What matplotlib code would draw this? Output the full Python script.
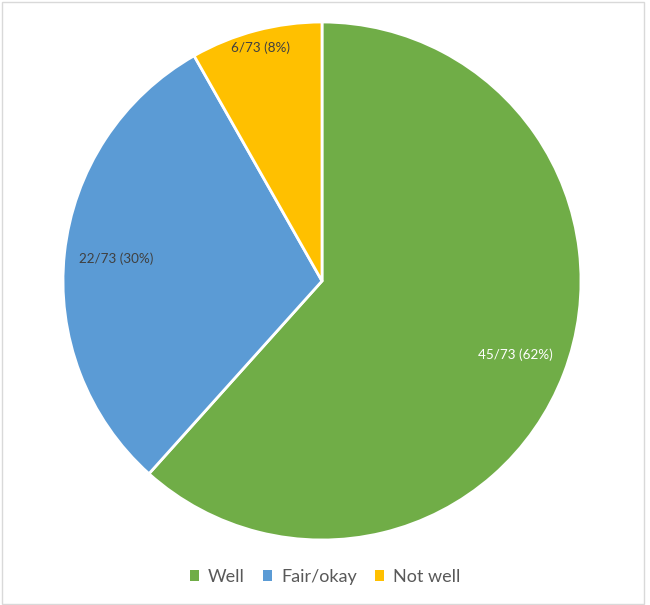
import numpy as np
import matplotlib
matplotlib.use('Agg')
import matplotlib.pyplot as plt
from matplotlib.patches import Rectangle, Patch

categories = ['Well', 'Fair/okay', 'Not well']
counts = [45, 22, 6]
total = 73
colors = ['#70AD47', '#5B9BD5', '#FFC000']
label_colors = ['white', '#404040', '#404040']
label_dist = [0.80, 0.80, 0.93]

plt.rcParams['font.family'] = ['Lato', 'DejaVu Sans']

fig = plt.figure(figsize=(6.5, 6.05), dpi=100)
ax = fig.add_axes([63 / 650, 65 / 605, 518 / 650, 518 / 605])

wedges, _ = ax.pie(counts, colors=colors, startangle=90, counterclock=False,
                   radius=1, wedgeprops=dict(edgecolor='white', linewidth=2))
ax.set_xlim(-1, 1)
ax.set_ylim(-1, 1)
ax.set_aspect('equal')
ax.axis('off')

# data labels
for w, n, c, d in zip(wedges, counts, label_colors, label_dist):
    mid = np.deg2rad((w.theta1 + w.theta2) / 2)
    txt = '{}/{} ({}%)'.format(n, total, int(round(100 * n / total)))
    ax.text(d * np.cos(mid), d * np.sin(mid), txt, ha='center', va='center',
            fontsize=9.7, color=c)

handles = [Patch(facecolor=c, edgecolor='none') for c in colors]
fig.legend(handles, categories, loc='center', bbox_to_anchor=(0.5, 28 / 605),
           ncol=3, frameon=False, fontsize=13, labelcolor='#595959',
           handlelength=0.5, handleheight=0.5, handletextpad=0.5, columnspacing=1.0)

# outer border
fig.patches.append(Rectangle((2 / 650, 1 / 605), 642 / 650, 602 / 605,
                             transform=fig.transFigure, fill=False,
                             edgecolor='#D9D9D9', linewidth=1))

fig.savefig('out.png', dpi=100)
